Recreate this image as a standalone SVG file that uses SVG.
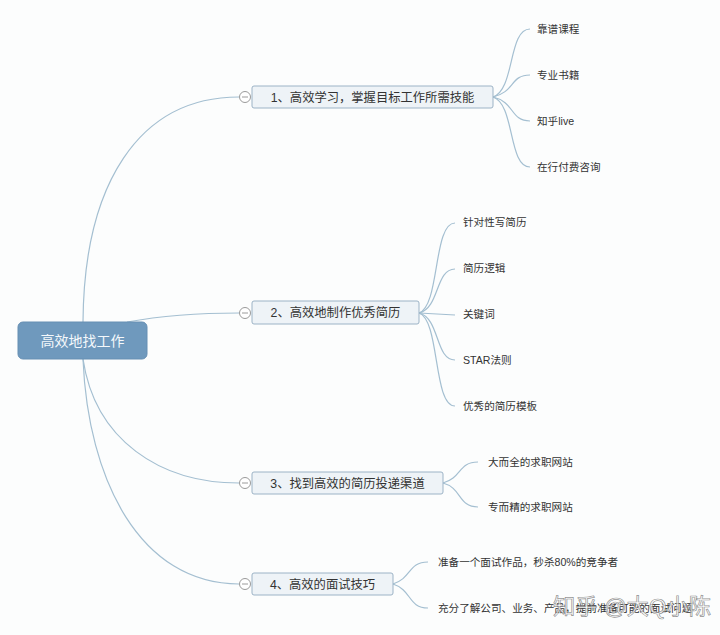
<svg xmlns="http://www.w3.org/2000/svg" width="720" height="635" viewBox="0 0 720 635">
<style>
text{font-family:"Liberation Sans","Noto Sans CJK SC",sans-serif;}
.root{fill:#6f99bd;stroke:#668fb3;stroke-width:1;}
.rt{fill:#f4f8fb;font-size:14px;text-anchor:middle;}
.br{fill:#eef3f7;stroke:#9cb3c6;stroke-width:1;}
.bt{fill:#333;font-size:12.3px;text-anchor:middle;}
.lt{fill:#333;font-size:10.6px;}
.c{fill:none;stroke:#a4bfd1;stroke-width:1.2;}
.col{fill:#fff;stroke:#9a9a9a;stroke-width:1;}
.cm{stroke:#9a9a9a;stroke-width:1;}
.wm{font-size:22px;fill:#fff;fill-opacity:0.7;stroke:#777;stroke-width:0.7;stroke-opacity:0.8;}
</style>
<rect width="720" height="635" fill="#fcfdfd"/>
<g id="connectors">
<path class="c" d="M83,322 C84,185 138,97 239,97"/>
<path class="c" d="M127,322 C160,316 200,313 239,313"/>
<path class="c" d="M83,359 C95,440 160,483 239,483"/>
<path class="c" d="M83,359 C88,480 140,584 239,584"/>
<path class="c" d="M493,97 C515,90 508,29 530,29"/>
<path class="c" d="M493,97 C515,92 510,75 530,75"/>
<path class="c" d="M493,97 C515,102 510,121 530,121"/>
<path class="c" d="M493,97 C515,104 508,167 530,167"/>
<path class="c" d="M419,313 C440,306 433,223 455,223"/>
<path class="c" d="M419,313 C440,308 435,269 455,269"/>
<path class="c" d="M419,313 L455,315"/>
<path class="c" d="M419,313 C440,318 435,360 455,360"/>
<path class="c" d="M419,313 C440,320 433,406 455,406"/>
<path class="c" d="M443,483 C462,478 458,462 478,462"/>
<path class="c" d="M443,483 C462,488 458,507 478,507"/>
<path class="c" d="M393,584 C412,578 408,562 428,562"/>
<path class="c" d="M393,584 C412,590 408,608 428,608"/>
</g>
<g id="root">
<rect class="root" x="18" y="322" width="129" height="37" rx="5"/>
<text class="rt" x="82.5" y="346">高效地找工作</text>
</g>
<g id="b1">
<rect class="br" x="252" y="86" width="241" height="22" rx="2"/>
<text class="bt" x="372.5" y="101.5">1、高效学习，掌握目标工作所需技能</text>
<circle class="col" cx="245" cy="97" r="5.5"/><line class="cm" x1="242" y1="97" x2="248" y2="97"/>
</g>
<g id="b2">
<rect class="br" x="252" y="301" width="167" height="23" rx="2"/>
<text class="bt" x="335.5" y="317">2、高效地制作优秀简历</text>
<circle class="col" cx="245" cy="313" r="5.5"/><line class="cm" x1="242" y1="313" x2="248" y2="313"/>
</g>
<g id="b3">
<rect class="br" x="252" y="472" width="191" height="22" rx="2"/>
<text class="bt" x="347.5" y="487.5">3、找到高效的简历投递渠道</text>
<circle class="col" cx="245" cy="483" r="5.5"/><line class="cm" x1="242" y1="483" x2="248" y2="483"/>
</g>
<g id="b4">
<rect class="br" x="252" y="573" width="141" height="22" rx="2"/>
<text class="bt" x="322.5" y="588.5">4、高效的面试技巧</text>
<circle class="col" cx="245" cy="584" r="5.5"/><line class="cm" x1="242" y1="584" x2="248" y2="584"/>
</g>
<g id="l1a"><text class="lt" x="537" y="33">靠谱课程</text></g>
<g id="l1b"><text class="lt" x="537" y="79">专业书籍</text></g>
<g id="l1c"><text class="lt" x="537" y="125">知乎live</text></g>
<g id="l1d"><text class="lt" x="537" y="171">在行付费咨询</text></g>
<g id="l2a"><text class="lt" x="463" y="226">针对性写简历</text></g>
<g id="l2b"><text class="lt" x="463" y="272">简历逻辑</text></g>
<g id="l2c"><text class="lt" x="463" y="318">关键词</text></g>
<g id="l2d"><text class="lt" x="463" y="364">STAR法则</text></g>
<g id="l2e"><text class="lt" x="463" y="410">优秀的简历模板</text></g>
<g id="l3a"><text class="lt" x="488" y="466">大而全的求职网站</text></g>
<g id="l3b"><text class="lt" x="488" y="511">专而精的求职网站</text></g>
<g id="l4a"><text class="lt" x="438" y="566">准备一个面试作品，秒杀80%的竞争者</text></g>
<g id="l4b"><text class="lt" x="438" y="612">充分了解公司、业务、产品，提前准备可能的面试问题</text></g>
<text class="wm" x="553" y="614" textLength="158" lengthAdjust="spacingAndGlyphs">知乎 @大Q小陈</text>
</svg>
